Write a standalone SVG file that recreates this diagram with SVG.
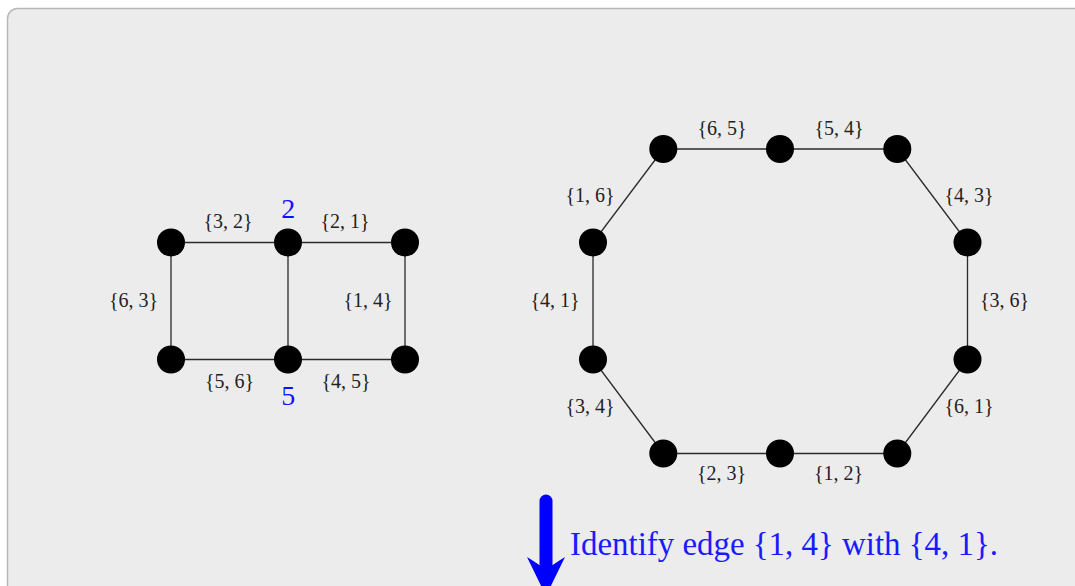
<svg xmlns="http://www.w3.org/2000/svg" width="1075" height="586" viewBox="0 0 1075 586">
<style>
.edge{stroke:#2a2a2a;stroke-width:1.3;fill:none}
.node{fill:#000}
.lbl{font-family:"Liberation Serif","DejaVu Serif",serif;font-size:20px;fill:#222;text-anchor:middle}
.big{font-family:"Liberation Serif","DejaVu Serif",serif;font-size:28px;fill:#1010ff;text-anchor:middle}
.note{font-family:"Liberation Serif","DejaVu Serif",serif;font-size:33px;fill:#1a1aff}
</style>
<rect x="7.5" y="8.5" width="1100" height="620" rx="10" ry="10" fill="#ececec" stroke="#b8b8b8" stroke-width="1.5"/>
<g id="connectors">
<line class="edge" x1="171" y1="242.5" x2="405" y2="242.5"/>
<line class="edge" x1="171" y1="359.5" x2="405" y2="359.5"/>
<line class="edge" x1="171" y1="242.5" x2="171" y2="359.5"/>
<line class="edge" x1="288" y1="242.5" x2="288" y2="359.5"/>
<line class="edge" x1="405" y1="242.5" x2="405" y2="359.5"/>
<polygon class="edge" points="663.3,149 780,149 897.3,149 967.5,242.5 967.5,359.5 897.3,453.5 780,453.5 663.3,453.5 593,359.5 593,242.5"/>
</g>
<g id="left-graph-nodes">
<circle id="L1" class="node" cx="171" cy="242.5" r="14"/>
<circle id="L2" class="node" cx="288" cy="242.5" r="14"/>
<circle id="L3" class="node" cx="405" cy="242.5" r="14"/>
<circle id="L4" class="node" cx="171" cy="359.5" r="14"/>
<circle id="L5" class="node" cx="288" cy="359.5" r="14"/>
<circle id="L6" class="node" cx="405" cy="359.5" r="14"/>
</g>
<g id="octagon-nodes">
<circle id="O1" class="node" cx="663.3" cy="149" r="14"/>
<circle id="O2" class="node" cx="780" cy="149" r="14"/>
<circle id="O3" class="node" cx="897.3" cy="149" r="14"/>
<circle id="O4" class="node" cx="967.5" cy="242.5" r="14"/>
<circle id="O5" class="node" cx="967.5" cy="359.5" r="14"/>
<circle id="O6" class="node" cx="897.3" cy="453.5" r="14"/>
<circle id="O7" class="node" cx="780" cy="453.5" r="14"/>
<circle id="O8" class="node" cx="663.3" cy="453.5" r="14"/>
<circle id="O9" class="node" cx="593" cy="359.5" r="14"/>
<circle id="O10" class="node" cx="593" cy="242.5" r="14"/>
</g>
<g id="labels">
<text class="lbl" x="228" y="228">{3, 2}</text>
<text class="lbl" x="345" y="228">{2, 1}</text>
<text class="lbl" x="133.5" y="306.5">{6, 3}</text>
<text class="lbl" x="368" y="306.5">{1, 4}</text>
<text class="lbl" x="229.5" y="388">{5, 6}</text>
<text class="lbl" x="346" y="388">{4, 5}</text>
<text class="big" x="288.3" y="218.3">2</text>
<text class="big" x="288.3" y="405">5</text>
<text class="lbl" x="722" y="135">{6, 5}</text>
<text class="lbl" x="839" y="135">{5, 4}</text>
<text class="lbl" x="590" y="201.5">{1, 6}</text>
<text class="lbl" x="969" y="201.5">{4, 3}</text>
<text class="lbl" x="555" y="306.5">{4, 1}</text>
<text class="lbl" x="1004.5" y="306.5">{3, 6}</text>
<text class="lbl" x="590" y="413.3">{3, 4}</text>
<text class="lbl" x="969" y="413.3">{6, 1}</text>
<text class="lbl" x="721.5" y="480">{2, 3}</text>
<text class="lbl" x="838.5" y="480">{1, 2}</text>
</g>
<g id="identify-arrow">
<line x1="546" y1="501" x2="546" y2="570" stroke="#0000ff" stroke-width="13" stroke-linecap="round"/>
<path d="M527,557 Q540,565 546,570 Q552,565 565,557 L546,596 Z" fill="#0000ff"/>
<text class="note" x="570" y="555" textLength="428" lengthAdjust="spacingAndGlyphs">Identify edge {1, 4} with {4, 1}.</text>
</g>
</svg>
